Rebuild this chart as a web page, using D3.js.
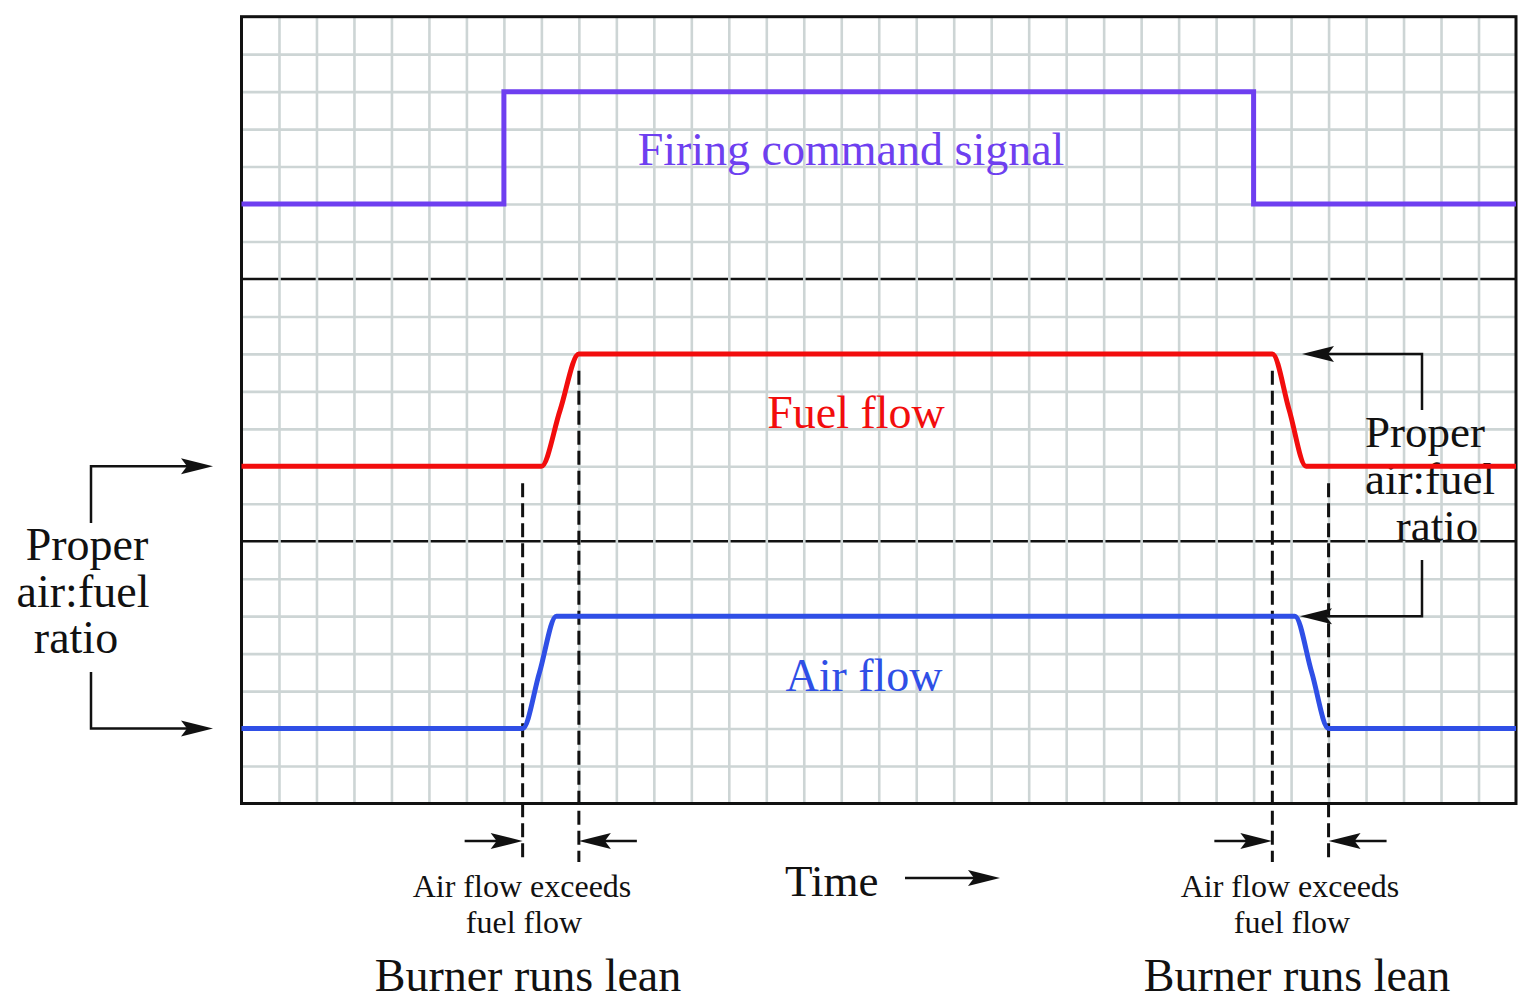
<!DOCTYPE html>
<html>
<head>
<meta charset="utf-8">
<script src="https://cdn.jsdelivr.net/npm/d3@7"></script>
<style>
  html, body { margin: 0; padding: 0; background: #ffffff; }
  svg { display: block; }
  text { font-family: "Liberation Serif", "DejaVu Serif", serif; }
</style>
</head>
<body>
<svg id="chart" width="1533" height="1008"></svg>
<script>
// ---------- data (grid units: x = time columns, y = rows from top) ----------
const gridCols = 34;
const gridRows = 21;
const panelDividers = [7, 14];

const firingTime  = [0, 7, 27, 34];
const firingLevel = [5, 2, 5, 5];

const fuelTime  = [0, 8, 8.5, 9, 27.5, 27.95, 28.4, 34];
const fuelLevel = [12, 12, 10.5, 9, 9, 10.5, 12, 12];

const airTime  = [0, 7.5, 7.95, 8.4, 28.1, 28.55, 29, 34];
const airLevel = [19, 19, 17.5, 16, 16, 17.5, 19, 19];

const leanMarks = [7.5, 9, 27.5, 29];          // dashed time markers
const leanMarkTop = [12.45, 9.45, 9.45, 12.45]; // rows where dashes begin

const seriesLabels = ["Firing command signal", "Fuel flow", "Air flow"];
const ratioLabel = ["Proper", "air:fuel", "ratio"];
const leanLabel = ["Air flow exceeds", "fuel flow"];
const leanTitle = "Burner runs lean";
const timeLabel = "Time";

// ---------- setup ----------
const svg = d3.select("#chart");
const x = d3.scaleLinear().domain([0, gridCols]).range([241.5, 1516]);
const y = d3.scaleLinear().domain([0, gridRows]).range([16.7, 803.5]);

const purple = "#6e3ff0", red = "#f20d0d", blue = "#2f4fe6";

// panel dividers (under grid)
svg.append("g").selectAll("line").data(panelDividers).join("line")
  .attr("x1", x(0)).attr("x2", x(gridCols))
  .attr("y1", d => y(d)).attr("y2", d => y(d))
  .attr("stroke", "#111").attr("stroke-width", 2.5);

// grid via axes
const gx = svg.append("g")
  .call(d3.axisBottom(x).tickValues(d3.range(1, gridCols))
    .tickSize(y(gridRows) - y(0)).tickFormat(""));
gx.attr("transform", `translate(0,${y(0)})`);
gx.select(".domain").remove();
gx.selectAll(".tick line").attr("stroke", "#cdd5d5").attr("stroke-width", 2.6);

const gy = svg.append("g").attr("transform", `translate(${x(0)},0)`)
  .call(d3.axisRight(y).tickValues(d3.range(1, gridRows).filter(r => !panelDividers.includes(r)))
    .tickSize(x(gridCols) - x(0)).tickFormat(""));
gy.select(".domain").remove();
gy.selectAll(".tick line").attr("stroke", "#cdd5d5").attr("stroke-width", 2.6);

// border
svg.append("rect").attr("x", x(0)).attr("y", y(0))
  .attr("width", x(gridCols) - x(0)).attr("height", y(gridRows) - y(0))
  .attr("fill", "none").attr("stroke", "#111").attr("stroke-width", 3);

// ---------- labels ----------
const labelSpec = [
  { t: seriesLabels[0], x: 851, y: 165, c: purple },
  { t: seriesLabels[1], x: 856, y: 428, c: red },
  { t: seriesLabels[2], x: 864, y: 691, c: blue }
];
svg.append("g").selectAll("text").data(labelSpec).join("text")
  .attr("x", d => d.x).attr("y", d => d.y).attr("text-anchor", "middle")
  .attr("font-size", 46).attr("fill", d => d.c).text(d => d.t);

// left ratio label
const leftRatioPos = [[87, 560], [83, 607], [76, 653]];
svg.append("g").selectAll("text").data(ratioLabel).join("text")
  .attr("x", (d, i) => leftRatioPos[i][0]).attr("y", (d, i) => leftRatioPos[i][1])
  .attr("text-anchor", "middle").attr("font-size", 46).attr("fill", "#111").text(d => d);

// right ratio label
const rightRatioPos = [[1425, 447], [1430, 494], [1437, 541]];
svg.append("g").selectAll("text").data(ratioLabel).join("text")
  .attr("x", (d, i) => rightRatioPos[i][0]).attr("y", (d, i) => rightRatioPos[i][1])
  .attr("text-anchor", "middle").attr("font-size", 45).attr("fill", "#111").text(d => d);

// bottom annotations
[[522, 528], [1290, 1297]].forEach(([cx, bx]) => {
  svg.append("text").attr("x", cx).attr("y", 897).attr("text-anchor", "middle")
    .attr("font-size", 32).attr("fill", "#111").text(leanLabel[0]);
  svg.append("text").attr("x", cx + 2).attr("y", 933).attr("text-anchor", "middle")
    .attr("font-size", 32).attr("fill", "#111").text(leanLabel[1]);
  svg.append("text").attr("x", bx).attr("y", 991).attr("text-anchor", "middle")
    .attr("font-size", 46).attr("fill", "#111").text(leanTitle);
});

svg.append("text").attr("x", 785).attr("y", 896).attr("font-size", 45)
  .attr("fill", "#111").text(timeLabel);

// ---------- dashed lean markers ----------
svg.append("g").selectAll("line").data(leanMarks).join("line")
  .attr("x1", d => x(d)).attr("x2", d => x(d))
  .attr("y1", (d, i) => y(leanMarkTop[i])).attr("y2", 862)
  .attr("stroke", "#111").attr("stroke-width", 3).attr("stroke-dasharray", "14,6");

// ---------- series lines ----------
const toPts = (xs, ys) => xs.map((v, i) => [v, ys[i]]);
const stepLine = d3.line().x(d => x(d[0])).y(d => y(d[1])).curve(d3.curveStepAfter);
const smoothLine = d3.line().x(d => x(d[0])).y(d => y(d[1])).curve(d3.curveMonotoneX);

svg.append("path").datum(toPts(firingTime, firingLevel)).attr("d", stepLine)
  .attr("fill", "none").attr("stroke", purple).attr("stroke-width", 5);
svg.append("path").datum(toPts(fuelTime, fuelLevel)).attr("d", smoothLine)
  .attr("fill", "none").attr("stroke", red).attr("stroke-width", 5);
svg.append("path").datum(toPts(airTime, airLevel)).attr("d", smoothLine)
  .attr("fill", "none").attr("stroke", blue).attr("stroke-width", 5);

// ---------- arrows ----------
function arrowHead(tx, ty, dir) { // dir: +1 pointing right, -1 pointing left
  const L = 32, W = 8, N = 6;
  const p = [[tx, ty], [tx - dir * L, ty - W], [tx - dir * (L - N), ty], [tx - dir * L, ty + W]];
  svg.append("path").attr("d", "M" + p.map(q => q.join(",")).join("L") + "Z").attr("fill", "#111");
}
function polyline(pts) {
  svg.append("path").attr("d", d3.line()(pts)).attr("fill", "none")
    .attr("stroke", "#111").attr("stroke-width", 2.5);
}

// left bracket
const yFuelLow = y(fuelLevel[0]), yAirLow = y(airLevel[0]);
polyline([[91, 523], [91, yFuelLow], [190, yFuelLow]]); arrowHead(213, yFuelLow, 1);
polyline([[91, 672], [91, yAirLow], [190, yAirLow]]); arrowHead(213, yAirLow, 1);

// right bracket
const yFuelHigh = y(fuelLevel[3]), yAirHigh = y(airLevel[3]);
polyline([[1422, 410], [1422, yFuelHigh], [1325, yFuelHigh]]); arrowHead(1302, yFuelHigh, -1);
polyline([[1422, 560], [1422, yAirHigh], [1322, yAirHigh]]); arrowHead(1300, yAirHigh, -1);

// bottom interval arrows
const yArr = 841;
[[0, 1], [2, 3]].forEach(([a, b]) => {
  const xa = x(leanMarks[a]), xb = x(leanMarks[b]);
  polyline([[xa - 58, yArr], [xa - 10, yArr]]); arrowHead(xa, yArr, 1);
  polyline([[xb + 58, yArr], [xb + 10, yArr]]); arrowHead(xb, yArr, -1);
});

// time arrow
polyline([[905, 878], [980, 878]]); arrowHead(1000, 878, 1);
</script>
</body>
</html>
